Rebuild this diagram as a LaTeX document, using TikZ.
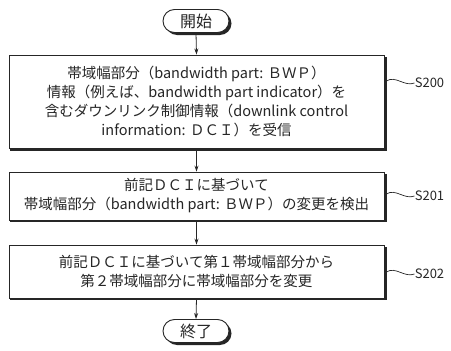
\documentclass[tikz,border=0pt]{standalone}
\usepackage{fontspec}
\setmainfont{Noto Sans CJK JP}
\usetikzlibrary{shapes.misc,arrows.meta}
\begin{document}
\begin{tikzpicture}[x=1pt,y=-1pt,
  stepbox/.style={draw=black!85,line width=0.9pt,fill=white,minimum width=375pt,align=center,
    font=\fontsize{14.5}{19}\selectfont,inner sep=0pt,text=black!85},
  term/.style={draw=black!85,line width=0.9pt,fill=white,rounded rectangle,minimum width=66pt,minimum height=23pt,
    font=\fontsize{16}{18}\selectfont,inner sep=0pt,text=black!85},
  arr/.style={draw=black!85,line width=0.8pt,-{Stealth[length=6pt,width=4pt]}},
  squig/.style={draw=black!85,line width=0.7pt},
  lab/.style={font=\fontsize{13}{15}\selectfont,text=black!85,anchor=west,inner sep=0pt}
]
\useasboundingbox (0,0) rectangle (451,351);
% shadows
\fill[black!85] (198.5,23.5) node[term,draw=none,fill=black!85] {\phantom{開始}};
\fill[black!85] (10,57) rectangle (387,151);
\fill[black!85] (10,174) rectangle (387,222);
\fill[black!85] (10,247) rectangle (387,300);
\fill[black!85] (198.5,333.5) node[term,draw=none,fill=black!85] {\phantom{終了}};

\node[term] (start) at (196,21) {開始};
\node[stepbox,minimum height=93pt] (s200) at (196.5,101.5) {帯域幅部分（bandwidth part: ＢＷＰ）\\情報（例えば、bandwidth part indicator）を\\含むダウンリンク制御情報（downlink control\\information: ＤＣＩ）を受信};
\node[stepbox,minimum height=48pt] (s201) at (196.5,196) {前記ＤＣＩに基づいて\\帯域幅部分（bandwidth part: ＢＷＰ）の変更を検出};
\node[stepbox,minimum height=53pt] (s202) at (196.5,271.5) {前記ＤＣＩに基づいて第１帯域幅部分から\\第２帯域幅部分に帯域幅部分を変更};
\node[term] (end) at (196,331) {終了};

\draw[arr] (start.south) -- (s200.north);
\draw[arr] (s200.south) -- (s201.north);
\draw[arr] (s201.south) -- (s202.north);
\draw[arr] (s202.south) -- (end.north);

\coordinate (c200) at (s200.east |- 0,81);
\coordinate (c201) at (s201.east |- 0,194);
\coordinate (c202) at (s202.east |- 0,272);
\foreach \c/\t in {c200/S200,c201/S201,c202/S202}{
  \draw[squig] ([xshift=2pt]\c) .. controls +(9,-6) and +(-10,4) .. ([xshift=30pt,yshift=-2pt]\c) node[lab] {\t};
}
\end{tikzpicture}
\end{document}
